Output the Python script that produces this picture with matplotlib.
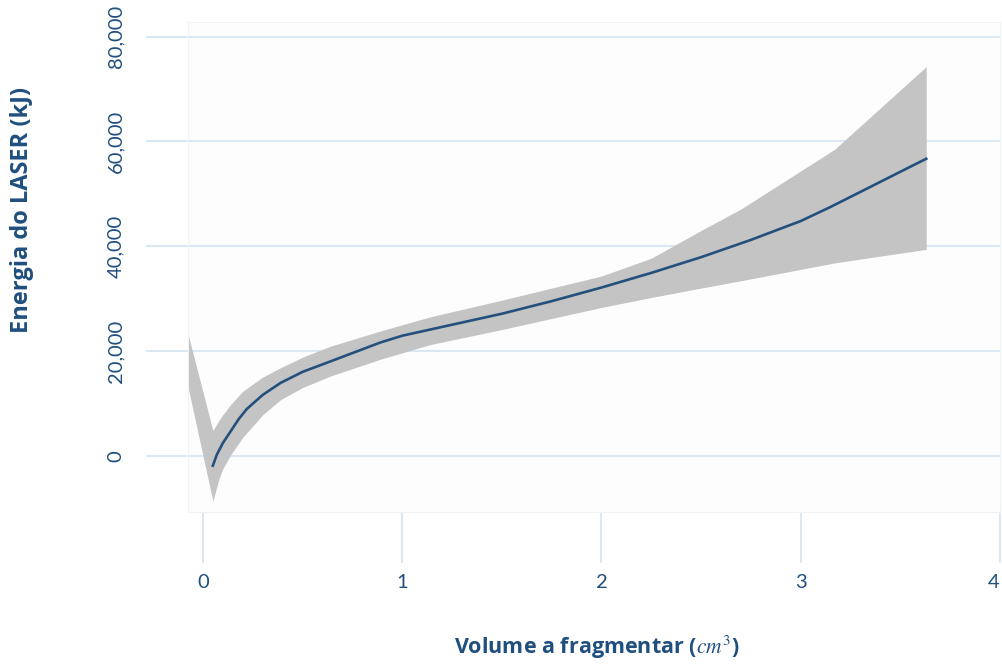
import matplotlib
matplotlib.use("Agg")
import matplotlib.pyplot as plt
from matplotlib.ticker import FuncFormatter

# fitted curve
line_x = [0.05, 0.07, 0.1, 0.14, 0.18, 0.22, 0.3, 0.39, 0.5, 0.64, 0.89, 1.0,
          1.25, 1.5, 1.75, 2.0, 2.25, 2.5, 2.75, 3.0, 3.15, 3.63]
line_y = [-1900, 200, 2400, 4700, 7000, 8900, 11600, 13900, 16000, 18000,
          21600, 22900, 25000, 27100, 29500, 32100, 34900, 37900, 41200, 44800,
          47500, 56700]

# confidence band
band_x = [-0.08, 0.05, 0.08, 0.1, 0.14, 0.2, 0.3, 0.39, 0.5, 0.64, 0.89,
          1.14, 1.49, 2.0, 2.25, 2.5, 2.7, 3.17, 3.63]
band_hi = [24000, 4800, 6700, 7800, 9800, 12300, 15000, 16800, 18800, 20900,
           23800, 26500, 29600, 34300, 37700, 43000, 47100, 58500, 74300]
band_lo = [14000, -8700, -4500, -2500, 200, 3500, 7800, 10700, 13000, 15200,
           18400, 21200, 24000, 28300, 30200, 32000, 33400, 36800, 39400]

x_ticks = [0, 1, 2, 3, 4]
y_ticks = [0, 20000, 40000, 60000, 80000]

TXT = '#1f4f7f'
GRID = '#dbe8f3'

plt.rcParams['font.family'] = ['Lato', 'DejaVu Sans']
plt.rcParams['mathtext.fontset'] = 'stix'

fig = plt.figure(figsize=(10.03, 6.68), dpi=100)
ax = fig.add_axes([0.1874, 0.234, 0.8096, 0.733])
ax.set_facecolor('#fdfdfd')

ax.fill_between(band_x, band_lo, band_hi, color='#c4c4c4', linewidth=0, zorder=2)
ax.plot(line_x, line_y, color='#24507e', linewidth=1.9, zorder=3)

ax.set_xlim(-0.075, 4.0)
ax.set_ylim(-10700, 82800)
ax.set_xticks(x_ticks)
ax.set_yticks(y_ticks)
ax.yaxis.set_major_formatter(FuncFormatter(lambda v, p: f"{int(v):,}"))

ax.yaxis.grid(True, color=GRID, linewidth=1.5, zorder=1)
ax.set_axisbelow(True)
for s in ax.spines.values():
    s.set_color('#eef3f6')
    s.set_linewidth(0.8)

ax.tick_params(axis='y', length=30, width=1.5, color=GRID, pad=16,
               labelsize=14.5, labelcolor=TXT, labelrotation=90)
ax.tick_params(axis='x', length=37, width=1.5, color=GRID, pad=8,
               labelsize=14.5, labelcolor=TXT)
for lab in ax.get_yticklabels():
    lab.set_verticalalignment('center')
# last x label sits at the figure edge, nudge it in a little
ax.get_xticklabels()[-1].set_horizontalalignment('right')

fig.text(0.022, 0.686, 'Energia do LASER (kJ)', rotation=90, ha='center',
         va='center', fontsize=17, fontweight='bold', color=TXT,
         family=['Open Sans', 'DejaVu Sans'])
fig.text(0.595, 0.031, r'Volume a fragmentar ($cm^3$)', ha='center',
         va='center', fontsize=15.5, fontweight='bold', color=TXT,
         family=['Open Sans', 'DejaVu Sans'])

fig.savefig('out.png', dpi=100)
